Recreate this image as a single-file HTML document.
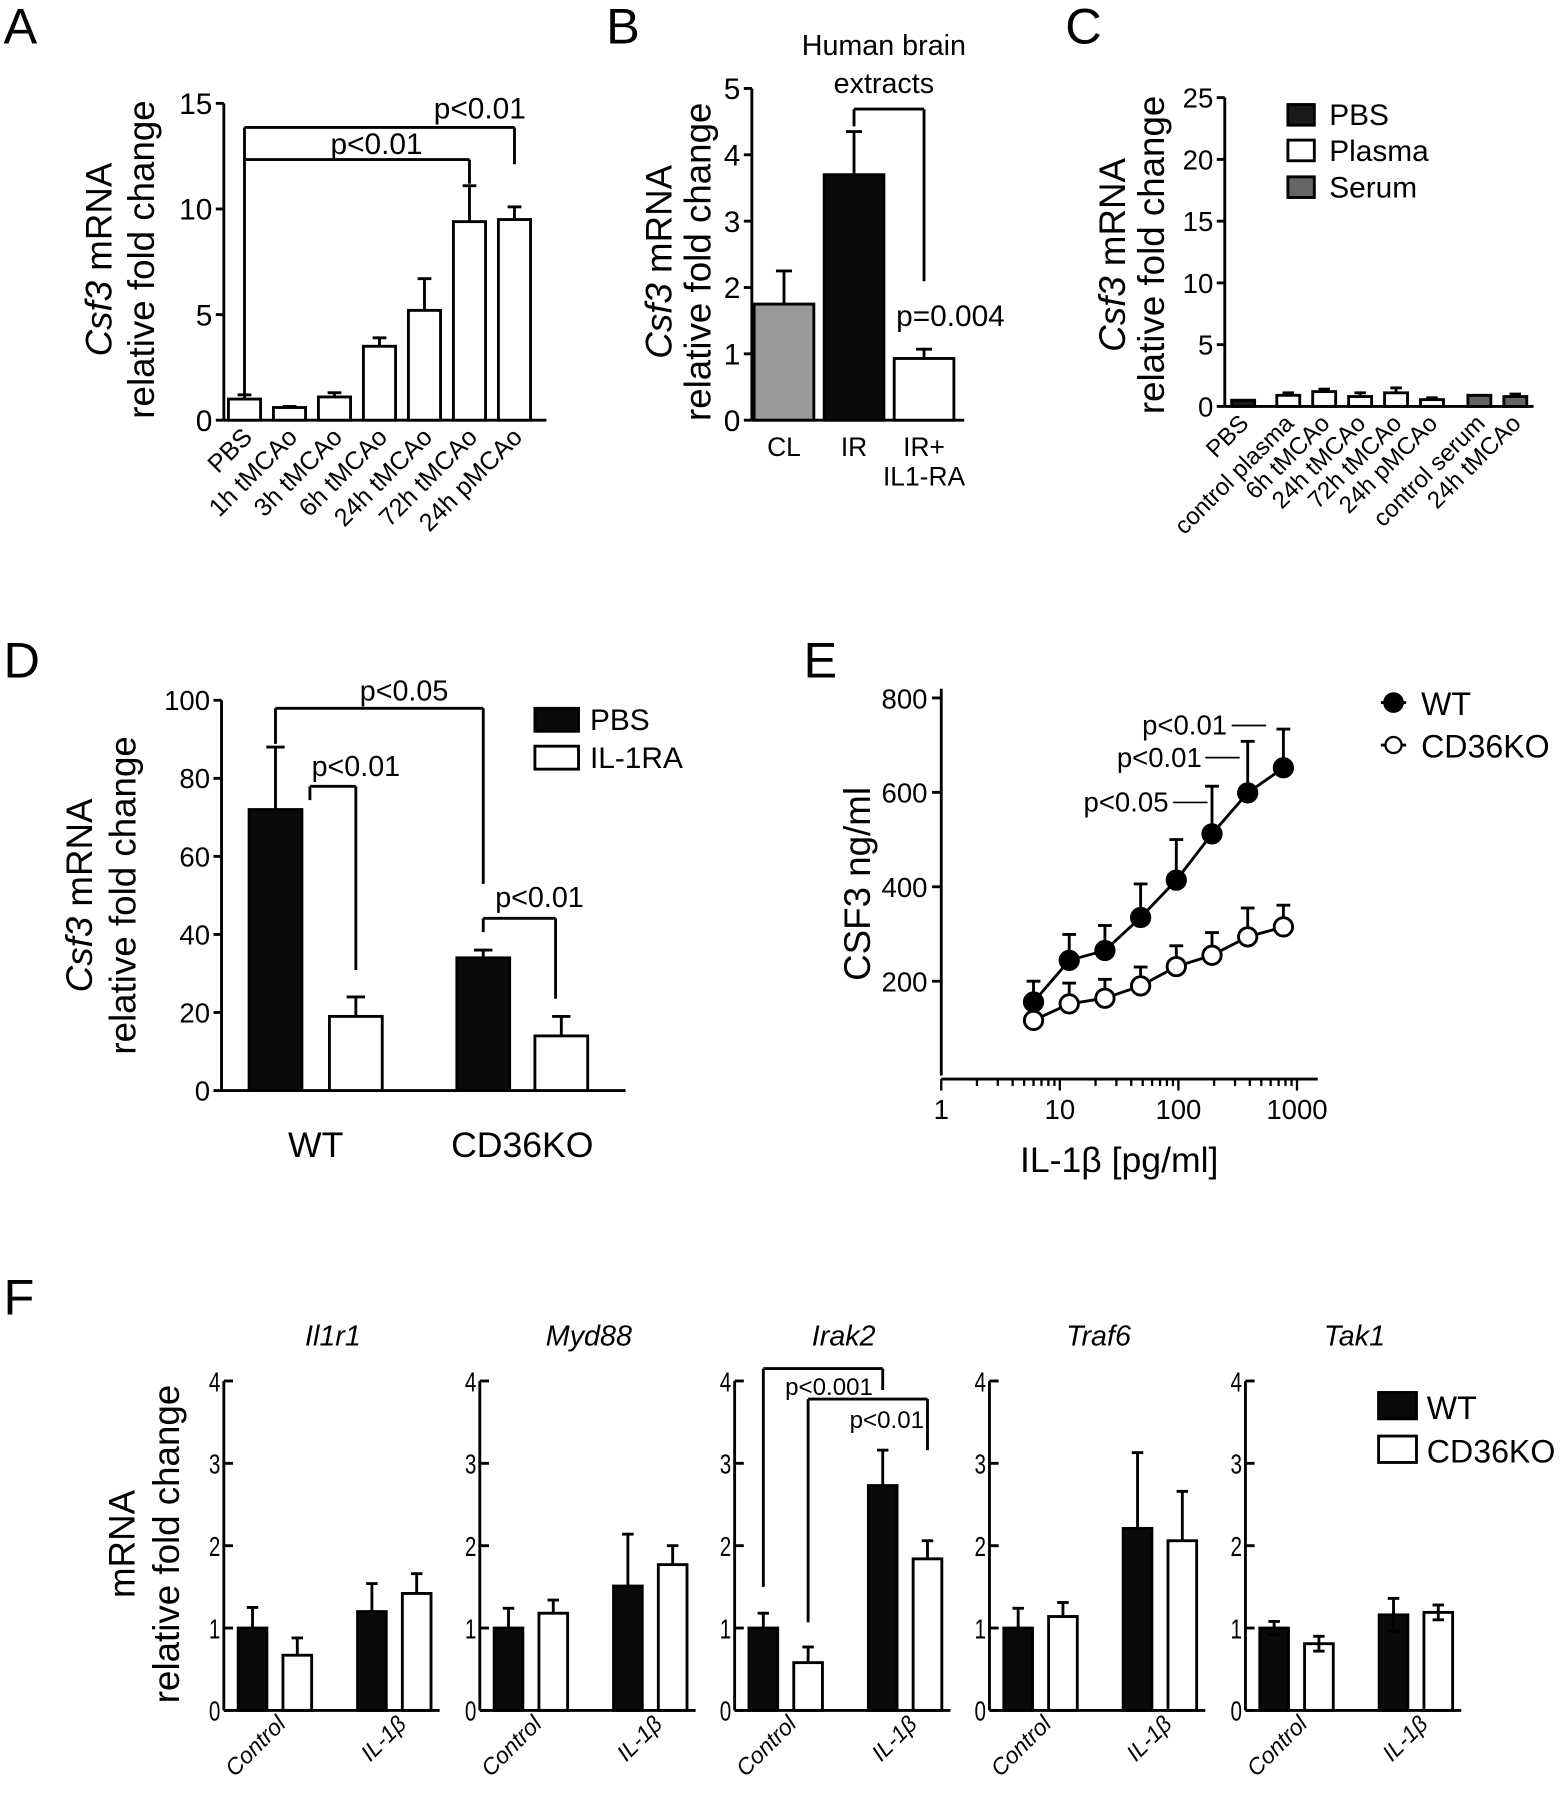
<!DOCTYPE html>
<html><head><meta charset="utf-8"><title>Csf3 figure</title>
<style>
html,body{margin:0;padding:0;background:#fff;}
svg{display:block;font-family:"Liberation Sans",Arial,sans-serif;}
</style></head>
<body>
<svg id="fig" width="1568" height="1800" viewBox="0 0 1366 1568" xmlns="http://www.w3.org/2000/svg"></svg>
<script>
// ---------- DATA ----------
const aCats=["PBS","1h tMCAo","3h tMCAo","6h tMCAo","24h tMCAo","72h tMCAo","24h pMCAo"];
const aVals=[1.0,0.6,1.1,3.5,5.2,9.4,9.5];
const aErr=[1.2,0.65,1.3,3.9,6.7,11.1,10.1];
const aTicks=[0,5,10,15];

const bCats=["CL","IR","IR+"];
const bVals=[1.75,3.7,0.93];
const bErr=[2.25,4.35,1.07];
const bTicks=[0,1,2,3,4,5];

const cCats=["PBS","control plasma","6h tMCAo","24h tMCAo","72h tMCAo","24h pMCAo","control serum","24h tMCAo"];
const cVals=[0.5,0.9,1.2,0.8,1.1,0.55,0.9,0.8];
const cErr=[0.5,1.1,1.4,1.1,1.5,0.7,0.9,1.0];
const cGroup=["PBS","Plasma","Plasma","Plasma","Plasma","Plasma","Serum","Serum"];
const cTicks=[0,5,10,15,20,25];

const dGroups=["WT","CD36KO"];
const dPBS=[72,34];
const dPBSErr=[88,36];
const dRA=[19,14];
const dRAErr=[24,19];
const dTicks=[0,20,40,60,80,100];

const eDose=[6,12,24,48,96,192,384,768];
const eWT=[156,244,265,335,414,512,599,652];
const eWTErr=[200,299,318,406,500,613,708,734];
const eKO=[117,152,164,190,231,255,294,315];
const eKOErr=[117,196,204,230,275,303,355,361];
const eYTicks=[200,400,600,800];
const eXTicks=[1,10,100,1000];

const fGenes=["Il1r1","Myd88","Irak2","Traf6","Tak1"];
const fWTCtl=[1.0,1.0,1.0,1.0,1.0];
const fWTCtlErr=[1.25,1.24,1.18,1.24,1.08];
const fKOCtl=[0.67,1.18,0.58,1.14,0.81];
const fKOCtlErr=[0.88,1.34,0.77,1.31,0.90];
const fWTIL=[1.2,1.51,2.73,2.21,1.16];
const fWTILErr=[1.54,2.14,3.16,3.13,1.36];
const fKOIL=[1.42,1.77,1.84,2.06,1.19];
const fKOILErr=[1.66,2.0,2.06,2.66,1.28];
const fTicks=[0,1,2,3,4];

// ---------- HELPERS ----------
const NS="http://www.w3.org/2000/svg";
const svg=document.getElementById("fig");
function el(tag,attrs,parent){const e=document.createElementNS(NS,tag);for(const k in attrs)e.setAttribute(k,attrs[k]);(parent||svg).appendChild(e);return e;}
function grp(name){const g=el("g",{});


return g;}
function line(g,x1,y1,x2,y2,name,w){const l=el("line",{x1:x1,y1:y1,x2:x2,y2:y2,stroke:"#000","stroke-width":w||2.5},g);


return l;}
function text(g,x,y,s,size,anchor,name,extra){const t=el("text",Object.assign({x:x,y:y,"font-size":size,"text-anchor":anchor||"start",fill:"#000"},extra||{}),g);t.textContent=s;


return t;}
function rect(g,x,y,w,h,fill,name){const r=el("rect",{x:x,y:y,width:w,height:h,fill:fill,stroke:"#000","stroke-width":2.5},g);


return r;}
function bar(g,cx,w,v,e,ys,fill,name,cap,lower){
  const y0=ys(0),yt=ys(v);
  rect(g,cx-w/2,yt,w,y0-yt,fill,name);
  if(e>v){line(g,cx,yt,cx,ys(e),name+"-error");line(g,cx-cap/2,ys(e),cx+cap/2,ys(e),name+"-error-cap");}
  if(lower){const lo=v-(e-v);line(g,cx,yt,cx,ys(lo),name+"-error-low");line(g,cx-cap/2,ys(lo),cx+cap/2,ys(lo),name+"-error-cap-low");}
}
function ytitle(g,x,y,parts,size,name){const t=el("text",{x:x,y:y,"font-size":size,"text-anchor":"middle",transform:"rotate(-90 "+x+" "+y+")"},g);


parts.forEach(p=>{const s=el("tspan",p[1]?{"font-style":"italic"}:{},t);s.textContent=p[0];});return t;}
function yaxis(g,x,ys,ticks,top,size,prefix){
  line(g,x,ys(0),x,top,prefix+"-y-axis");
  ticks.forEach(t=>{line(g,x-7,ys(t),x,ys(t),prefix+"-y-tick");text(g,x-10,ys(t)+size*0.36,String(t),size,"end",prefix+"-y-tick-label");});
}
function panelLetter(x,y,s){text(svg,x,y,s,44,"start","panel-label-"+s.toLowerCase());}

// ---------- PANEL A ----------
(function(){
const g=grp("panel-a");
panelLetter(3,38,"A");
const ys=v=>366-v*18.4;
const xs=i=>213+i*39.2;
yaxis(g,195,ys,aTicks,90,26,"a");
line(g,195,366,476,366,"a-x-axis");
aCats.forEach((c,i)=>{bar(g,xs(i),28,aVals[i],aErr[i],ys,"#fff","a-bar-"+i,12);
 text(g,xs(i)+8,382,c,22,"end","a-x-label",{transform:"rotate(-45 "+(xs(i)+8)+" 382)"});});
line(g,xs(0),111,xs(6),111,"a-bracket-top");line(g,xs(6),111,xs(6),143,"a-bracket-right");
line(g,xs(0),139,xs(5),139,"a-bracket2-top");line(g,xs(5),139,xs(5),160,"a-bracket2-right");
line(g,xs(0),111,xs(0),344,"a-bracket-left");
text(g,418,103,"p<0.01",26,"middle","a-pvalue-1");
text(g,328,134,"p<0.01",26,"middle","a-pvalue-2");
ytitle(g,97,226,[["Csf3",1],[" mRNA",0]],32,"a-y-title-1");
ytitle(g,134,226,[["relative fold change",0]],32,"a-y-title-2");
})();

// ---------- PANEL B ----------
(function(){
const g=grp("panel-b");
panelLetter(528,38,"B");
const ys=v=>366-v*57.8;
const xs=i=>683+i*61;
yaxis(g,655,ys,bTicks,77,26,"b");
line(g,655,366,840,366,"b-x-axis");
const fills=["#999","#0a0a0a","#fff"];
bCats.forEach((c,i)=>{bar(g,xs(i),52,bVals[i],bErr[i],ys,fills[i],"b-bar-"+i,14);
 text(g,xs(i),397,c,23,"middle","b-x-label");});
text(g,xs(2),423,"IL1-RA",23,"middle","b-x-label");
text(g,770,48,"Human brain",25,"middle","b-annotation");
text(g,770,81,"extracts",25,"middle","b-annotation");
line(g,xs(1),95,xs(2),95,"b-bracket-top");line(g,xs(1),95,xs(1),110,"b-bracket-left");line(g,xs(2),95,xs(2),245,"b-bracket-right");
text(g,828,284,"p=0.004",26,"middle","b-pvalue");
ytitle(g,585,228,[["Csf3",1],[" mRNA",0]],32,"b-y-title-1");
ytitle(g,619,228,[["relative fold change",0]],32,"b-y-title-2");
})();

// ---------- PANEL C ----------
(function(){
const g=grp("panel-c");
panelLetter(928,38,"C");
const ys=v=>354-v*10.76;
const xs=i=>1083+i*31.3+(i>=1?8:0)+(i>=6?10:0);
yaxis(g,1067,ys,cTicks,85,24,"c");
line(g,1067,354,1336,354,"c-x-axis");
const fillOf={PBS:"#1a1a1a",Plasma:"#fff",Serum:"#666"};
cCats.forEach((c,i)=>{bar(g,xs(i),20,cVals[i],cErr[i],ys,fillOf[cGroup[i]],"c-bar-"+i,10);
 text(g,xs(i)+6,370,c,21,"end","c-x-label",{transform:"rotate(-45 "+(xs(i)+6)+" 370)"});});
[["PBS","#1a1a1a",91],["Plasma","#fff",122],["Serum","#666",154]].forEach(l=>{
 rect(g,1122,l[2],23,18,l[1],"c-legend-swatch");text(g,1158,l[2]+18,l[0],26,"start","c-legend-label");});
ytitle(g,980,222,[["Csf3",1],[" mRNA",0]],32,"c-y-title-1");
ytitle(g,1014,222,[["relative fold change",0]],32,"c-y-title-2");
})();

// ---------- PANEL D ----------
(function(){
const g=grp("panel-d");
panelLetter(3,590,"D");
const ys=v=>950-v*3.4;
yaxis(g,193,ys,dTicks,610,24,"d");
line(g,193,950,545,950,"d-x-axis");
const xc=[[240,310],[421,489]];
dGroups.forEach((gr,i)=>{
 bar(g,xc[i][0],46,dPBS[i],dPBSErr[i],ys,"#0a0a0a","d-bar-pbs-"+gr,16);
 bar(g,xc[i][1],46,dRA[i],dRAErr[i],ys,"#fff","d-bar-il1ra-"+gr,16);
 text(g,(xc[i][0]+xc[i][1])/2,1008,gr,31,"middle","d-x-label");});
line(g,240,617,421,617,"d-bracket");line(g,240,617,240,648,"d-bracket");line(g,421,617,421,770,"d-bracket");
text(g,352,610,"p<0.05",25,"middle","d-pvalue");
line(g,270,685,310,685,"d-bracket");line(g,270,685,270,697,"d-bracket");line(g,310,685,310,845,"d-bracket");
text(g,310,676,"p<0.01",25,"middle","d-pvalue");
line(g,421,800,484,800,"d-bracket");line(g,421,800,421,812,"d-bracket");line(g,484,800,484,870,"d-bracket");
text(g,470,790,"p<0.01",25,"middle","d-pvalue");
rect(g,466,617,38,20,"#0a0a0a","d-legend-swatch");text(g,514,636,"PBS",26,"start","d-legend-label");
rect(g,466,650,38,20,"#fff","d-legend-swatch");text(g,514,669,"IL-1RA",26,"start","d-legend-label");
ytitle(g,80,780,[["Csf3",1],[" mRNA",0]],32,"d-y-title-1");
ytitle(g,118,780,[["relative fold change",0]],32,"d-y-title-2");
})();

// ---------- PANEL E ----------
(function(){
const g=grp("panel-e");
panelLetter(700,590,"E");
const ys=v=>937-v*0.4113;
const xs=d=>820+Math.log10(d)*103.3;
line(g,820,937,820,600,"e-y-axis");
eYTicks.forEach(t=>{line(g,812,ys(t),820,ys(t),"e-y-tick");text(g,808,ys(t)+9,String(t),24,"end","e-y-tick-label");});
line(g,820,940,1148,940,"e-x-axis");
for(let dec=1;dec<=1000;dec*=10){for(let m=1;m<10;m++){const v=dec*m;if(v>1000&&m>1)break;if(xs(v)>1148)break;
 line(g,xs(v),940,xs(v),m===1?950:946,"e-x-tick",2);}}
eXTicks.forEach(t=>text(g,xs(t),975,String(t),24,"middle","e-x-tick-label"));
function series(vals,errs,fill,name){
 const pts=eDose.map((d,i)=>xs(d)+","+ys(vals[i])).join(" ");
 const pl=el("polyline",{points:pts,fill:"none",stroke:"#000","stroke-width":2.5},g);
 
 
 eDose.forEach((d,i)=>{if(errs[i]>vals[i]+1){line(g,xs(d),ys(vals[i]),xs(d),ys(errs[i]),name+"-error");line(g,xs(d)-6,ys(errs[i]),xs(d)+6,ys(errs[i]),name+"-error-cap");}
  const c=el("circle",{cx:xs(d),cy:ys(vals[i]),r:8,fill:fill,stroke:"#000","stroke-width":2.5},g);
  
  });
}
series(eKO,eKOErr,"#fff","e-cd36ko");
series(eWT,eWTErr,"#000","e-wt");
text(g,1018,707,"p<0.05",24,"end","e-pvalue");line(g,1022,699,1052,699,"e-pvalue-line",1.5);
text(g,1047,668,"p<0.01",24,"end","e-pvalue");line(g,1050,660,1080,660,"e-pvalue-line",1.5);
text(g,1069,640,"p<0.01",24,"end","e-pvalue");line(g,1073,632,1103,632,"e-pvalue-line",1.5);
line(g,1203,612,1225,612,"e-legend-line");
const c1=el("circle",{cx:1214,cy:612,r:8,fill:"#000",stroke:"#000","stroke-width":2},g);


text(g,1238,623,"WT",28,"start","e-legend-label");
line(g,1203,649,1225,649,"e-legend-line");
const c2=el("circle",{cx:1214,cy:649,r:7,fill:"#fff",stroke:"#000","stroke-width":2},g);


text(g,1238,660,"CD36KO",28,"start","e-legend-label");
ytitle(g,758,770,[["CSF3 ng/ml",0]],32,"e-y-title");
text(g,975,1021,"IL-1β [pg/ml]",31,"middle","e-x-title");
})();

// ---------- PANEL F ----------
(function(){
const g=grp("panel-f");
panelLetter(3,1145,"F");
const ys=v=>1490-v*71.75;
const axX=[195,418,640,862,1085];
fGenes.forEach((gene,k)=>{
 const sg=grp("f-subplot-"+gene);
 g.appendChild(sg);
 const x0=axX[k];
 line(sg,x0,1490,x0,1203,"f-y-axis");
 fTicks.forEach(t=>{line(sg,x0,ys(t),x0+8,ys(t),"f-y-tick");text(sg,x0-3,ys(t)+9,String(t),24,"end","f-y-tick-label",{transform:"translate("+(x0-3)+" 0) scale(0.75 1) translate("+(-(x0-3))+" 0)"});});
 line(sg,x0,1490,x0+188,1490,"f-x-axis");
 const lower=(gene==="Tak1");
 bar(sg,x0+25,25,fWTCtl[k],fWTCtlErr[k],ys,"#0a0a0a","f-bar-wt-control",10,lower);
 bar(sg,x0+64,25,fKOCtl[k],fKOCtlErr[k],ys,"#fff","f-bar-ko-control",10,lower);
 bar(sg,x0+129,25,fWTIL[k],fWTILErr[k],ys,"#0a0a0a","f-bar-wt-il1b",10,lower);
 bar(sg,x0+168,25,fKOIL[k],fKOILErr[k],ys,"#fff","f-bar-ko-il1b",10,lower);
 text(sg,x0+95,1172,gene,25,"middle","f-gene-title",{"font-style":"italic"});
 text(sg,x0+55,1503,"Control",20,"end","f-x-label",{"font-style":"italic",transform:"rotate(-45 "+(x0+55)+" 1503)"});
 text(sg,x0+160,1503,"IL-1β",20,"end","f-x-label",{"font-style":"italic",transform:"rotate(-45 "+(x0+160)+" 1503)"});
});
const x0=640;
line(g,x0+25,ys(4.15),x0+129,ys(4.15),"f-irak2-bracket");line(g,x0+25,ys(4.15),x0+25,ys(1.5),"f-irak2-bracket");line(g,x0+129,ys(4.15),x0+129,ys(3.89),"f-irak2-bracket");
text(g,x0+44,ys(3.83),"p<0.001",21,"start","f-irak2-pvalue");
line(g,x0+64,ys(3.78),x0+168,ys(3.78),"f-irak2-bracket");line(g,x0+64,ys(3.78),x0+64,ys(1.07),"f-irak2-bracket");line(g,x0+168,ys(3.78),x0+168,ys(3.16),"f-irak2-bracket");
text(g,x0+165,ys(3.43),"p<0.01",21,"end","f-irak2-pvalue");
rect(g,1201,1213,33,23,"#0a0a0a","f-legend-swatch");text(g,1243,1236,"WT",28,"start","f-legend-label");
rect(g,1201,1251,33,23,"#fff","f-legend-swatch");text(g,1243,1274,"CD36KO",28,"start","f-legend-label");
ytitle(g,117,1345,[["mRNA",0]],32,"f-y-title-1");
ytitle(g,156,1345,[["relative fold change",0]],32,"f-y-title-2");
})();
</script>
</body></html>
